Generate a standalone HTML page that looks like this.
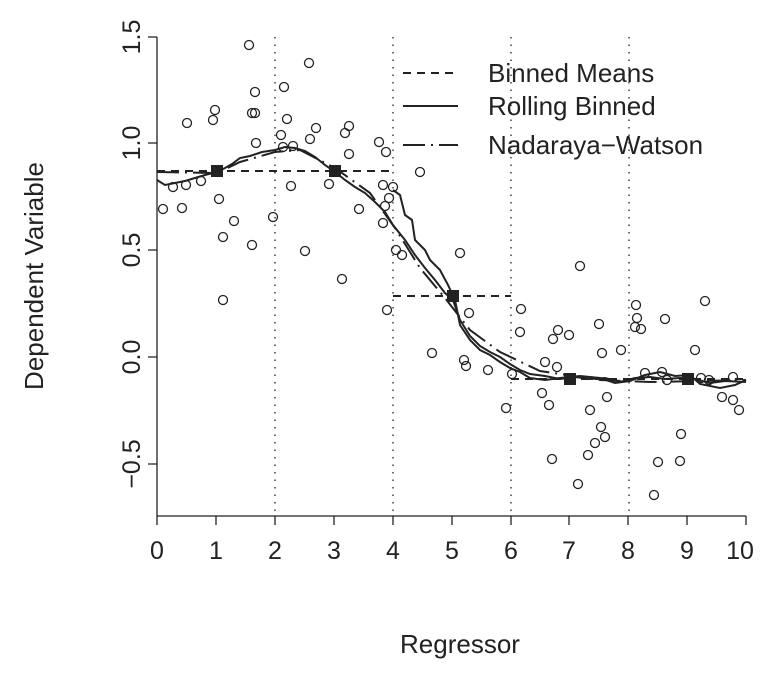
<!DOCTYPE html><html><head><style>body{margin:0;background:#fff}</style></head><body>
<svg width="778" height="673" xmlns="http://www.w3.org/2000/svg" font-family="Liberation Sans, sans-serif" font-size="26" fill="#222">
<g stroke="#222" stroke-width="1.3" fill="none">
<line x1="157" y1="37" x2="157" y2="516"/>
<line x1="157" y1="516" x2="746" y2="516"/>
<path d="M148 37H157M148 143H157M148 250H157M148 357H157M148 464H157"/>
<path d="M157 516V525M216 516V525M275 516V525M334 516V525M393 516V525M452 516V525M511 516V525M569 516V525M628 516V525M687 516V525M746 516V525"/>
<g stroke-dasharray="1.5 6"><path d="M275 37V516M393 37V516M511 37V516M629 37V516"/></g>
</g>
<g font-size="25" text-anchor="middle">
<text x="157" y="559">0</text><text x="216" y="559">1</text><text x="275" y="559">2</text><text x="334" y="559">3</text><text x="393" y="559">4</text><text x="452" y="559">5</text><text x="511" y="559">6</text><text x="569" y="559">7</text><text x="628" y="559">8</text><text x="687" y="559">9</text><text x="740" y="559">10</text>
<text transform="translate(140 37) rotate(-90)">1.5</text>
<text transform="translate(140 143) rotate(-90)">1.0</text>
<text transform="translate(140 250) rotate(-90)">0.5</text>
<text transform="translate(140 357) rotate(-90)">0.0</text>
<text transform="translate(140 464) rotate(-90)">−0.5</text>
<text x="460" y="653" font-size="26">Regressor</text>
<text transform="translate(43 276) rotate(-90)" font-size="26">Dependent Variable</text>
</g>
<g stroke="#222" stroke-width="1.3" fill="none">
<circle cx="249" cy="45" r="4.5"/><circle cx="309" cy="63" r="4.5"/><circle cx="284" cy="87" r="4.5"/><circle cx="255" cy="92" r="4.5"/><circle cx="287" cy="119" r="4.5"/><circle cx="215" cy="110" r="4.5"/><circle cx="213" cy="120" r="4.5"/><circle cx="187" cy="123" r="4.5"/><circle cx="252" cy="113" r="4.5"/><circle cx="255" cy="113" r="4.5"/><circle cx="316" cy="128" r="4.5"/><circle cx="349" cy="126" r="4.5"/><circle cx="345" cy="133" r="4.5"/><circle cx="310" cy="139" r="4.5"/><circle cx="281" cy="135" r="4.5"/><circle cx="256" cy="143" r="4.5"/><circle cx="283" cy="147" r="4.5"/><circle cx="293" cy="146" r="4.5"/><circle cx="379" cy="142" r="4.5"/><circle cx="386" cy="152" r="4.5"/><circle cx="349" cy="154" r="4.5"/><circle cx="173" cy="187" r="4.5"/><circle cx="186" cy="185" r="4.5"/><circle cx="201" cy="181" r="4.5"/><circle cx="163" cy="209" r="4.5"/><circle cx="182" cy="208" r="4.5"/><circle cx="219" cy="199" r="4.5"/><circle cx="291" cy="186" r="4.5"/><circle cx="329" cy="184" r="4.5"/><circle cx="383" cy="185" r="4.5"/><circle cx="393" cy="187" r="4.5"/><circle cx="389" cy="198" r="4.5"/><circle cx="385" cy="206" r="4.5"/><circle cx="359" cy="209" r="4.5"/><circle cx="383" cy="223" r="4.5"/><circle cx="234" cy="221" r="4.5"/><circle cx="273" cy="217" r="4.5"/><circle cx="223" cy="237" r="4.5"/><circle cx="252" cy="245" r="4.5"/><circle cx="305" cy="251" r="4.5"/><circle cx="342" cy="279" r="4.5"/><circle cx="223" cy="300" r="4.5"/><circle cx="420" cy="172" r="4.5"/>
<circle cx="396" cy="250" r="4.5"/><circle cx="402" cy="255" r="4.5"/><circle cx="387" cy="310" r="4.5"/><circle cx="432" cy="353" r="4.5"/><circle cx="460" cy="253" r="4.5"/>
<circle cx="469" cy="313" r="4.5"/><circle cx="464" cy="360" r="4.5"/><circle cx="466" cy="366" r="4.5"/><circle cx="488" cy="370" r="4.5"/><circle cx="506" cy="408" r="4.5"/><circle cx="512" cy="374" r="4.5"/><circle cx="520" cy="332" r="4.5"/><circle cx="521" cy="309" r="4.5"/><circle cx="542" cy="393" r="4.5"/><circle cx="545" cy="362" r="4.5"/><circle cx="549" cy="405" r="4.5"/><circle cx="553" cy="339" r="4.5"/><circle cx="557" cy="367" r="4.5"/><circle cx="558" cy="330" r="4.5"/><circle cx="569" cy="335" r="4.5"/><circle cx="552" cy="459" r="4.5"/><circle cx="578" cy="484" r="4.5"/><circle cx="580" cy="266" r="4.5"/><circle cx="588" cy="455" r="4.5"/><circle cx="590" cy="410" r="4.5"/><circle cx="595" cy="443" r="4.5"/><circle cx="599" cy="324" r="4.5"/><circle cx="601" cy="427" r="4.5"/><circle cx="602" cy="353" r="4.5"/><circle cx="605" cy="437" r="4.5"/><circle cx="607" cy="397" r="4.5"/><circle cx="621" cy="350" r="4.5"/><circle cx="636" cy="305" r="4.5"/><circle cx="637" cy="318" r="4.5"/><circle cx="635" cy="327" r="4.5"/><circle cx="641" cy="329" r="4.5"/><circle cx="645" cy="373" r="4.5"/><circle cx="654" cy="495" r="4.5"/><circle cx="658" cy="462" r="4.5"/><circle cx="662" cy="372" r="4.5"/><circle cx="665" cy="319" r="4.5"/><circle cx="667" cy="380" r="4.5"/><circle cx="680" cy="461" r="4.5"/><circle cx="681" cy="434" r="4.5"/><circle cx="695" cy="350" r="4.5"/><circle cx="705" cy="301" r="4.5"/><circle cx="701" cy="378" r="4.5"/><circle cx="709" cy="380" r="4.5"/><circle cx="722" cy="397" r="4.5"/><circle cx="733" cy="377" r="4.5"/><circle cx="733" cy="400" r="4.5"/><circle cx="739" cy="410" r="4.5"/>
</g>
<g stroke="#222" stroke-width="2" fill="none">
<path stroke-dasharray="8 6" d="M157 171H393M393 296H511M511 379H746"/>
<path stroke-dasharray="22 6 2 6" d="M157 172L217 173L240 162L275 152L300 150L335 168L370 193L395 228L420 268L445 298L470 330L500 352L540 371L600 380L650 382L746 380"/>
<path d="M157 180L165 185L175 183L185 181L195 178L205 175L217 172L225 168L232 164L240 158L250 156L262 152L275 150L285 147L295 148L305 151L315 157L325 165L335 172L345 180L355 187L365 193L375 202L385 212L393 225L405 240L415 255L425 268L435 280L445 293L453 300L460 320L470 336L480 346L490 352L500 357L510 364L520 370L530 374L545 376L560 379L575 377L590 379L605 378L620 382L635 378L650 377L665 379L680 378L695 379L710 383L725 381L746 382"/>
<path d="M393 190L400 195L405 215L412 220L415 240L425 250L430 260L440 270L448 285L455 300L460 325L470 340L480 350L490 355L500 362L510 368L520 372L530 378L545 380L560 378L580 376L600 378L615 383L630 381L645 375L660 372L675 376L690 375L700 384L720 388L735 385L746 380"/>
</g>
<g fill="#222">
<rect x="211" y="165" width="12" height="12"/><rect x="329" y="165" width="12" height="12"/><rect x="447" y="290" width="12" height="12"/><rect x="564" y="373" width="12" height="12"/><rect x="682" y="373" width="12" height="12"/>
</g>
<g stroke="#222" stroke-width="2">
<line x1="403" y1="73" x2="458" y2="73" stroke-dasharray="8 6"/>
<line x1="403" y1="106" x2="458" y2="106"/>
<line x1="403" y1="145" x2="458" y2="145" stroke-dasharray="22 6 2 6"/>
</g>
<text x="488" y="82">Binned Means</text>
<text x="488" y="115">Rolling Binned</text>
<text x="488" y="154">Nadaraya−Watson</text>
</svg></body></html>
